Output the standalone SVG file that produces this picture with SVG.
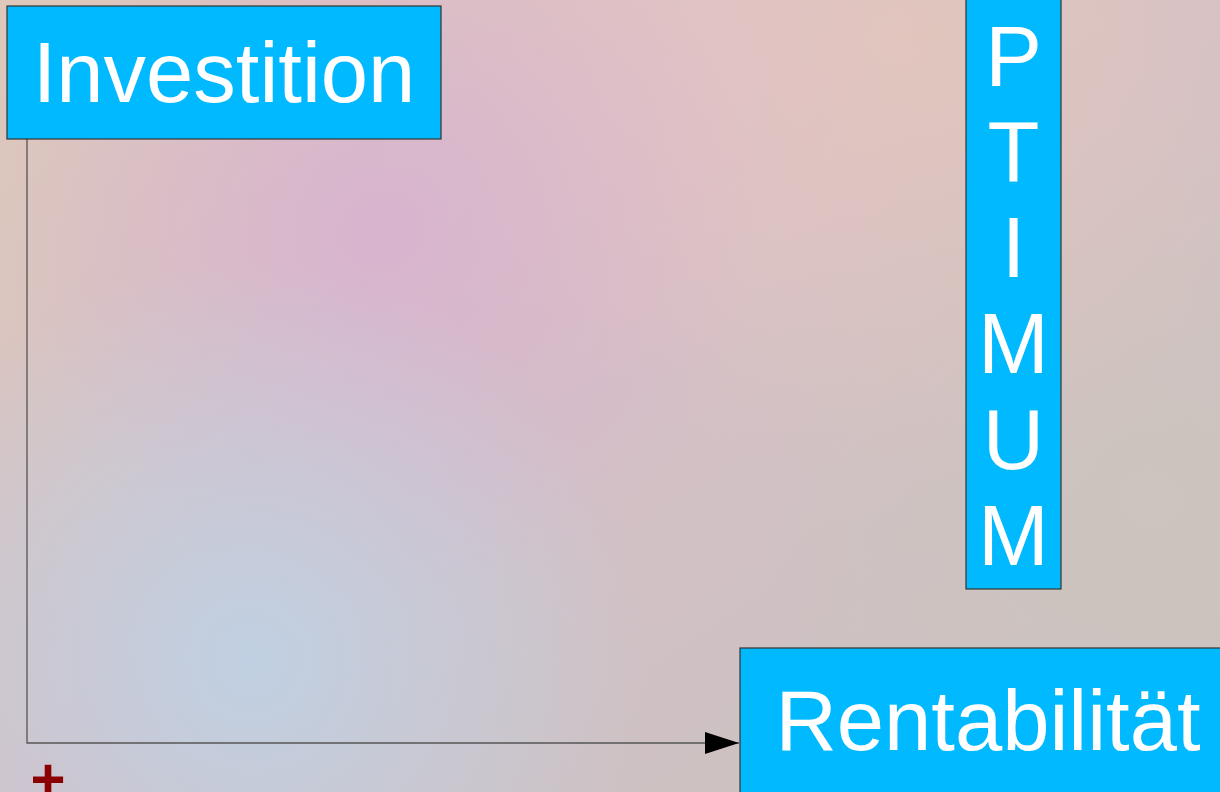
<svg xmlns="http://www.w3.org/2000/svg" width="1220" height="792" viewBox="0 0 1220 792">
  <defs>
    <linearGradient id="bg" x1="0" y1="0" x2="1" y2="1">
      <stop offset="0" stop-color="#dec8bb"/>
      <stop offset="0.5" stop-color="#d4c0c6"/>
      <stop offset="1" stop-color="#c8c2bf"/>
    </linearGradient>
    <radialGradient id="pink" cx="380" cy="230" r="380" gradientUnits="userSpaceOnUse">
      <stop offset="0" stop-color="#d8b2d0" stop-opacity="0.9"/>
      <stop offset="1" stop-color="#d8b2d0" stop-opacity="0"/>
    </radialGradient>
    <radialGradient id="blue" cx="250" cy="660" r="400" gradientUnits="userSpaceOnUse">
      <stop offset="0" stop-color="#c0d0e2" stop-opacity="1"/>
      <stop offset="1" stop-color="#c0d0e2" stop-opacity="0"/>
    </radialGradient>
    <radialGradient id="warm" cx="900" cy="40" r="450" gradientUnits="userSpaceOnUse">
      <stop offset="0" stop-color="#e2c6bc" stop-opacity="0.9"/>
      <stop offset="1" stop-color="#e2c6bc" stop-opacity="0"/>
    </radialGradient>
    <radialGradient id="gray" cx="1150" cy="500" r="400" gradientUnits="userSpaceOnUse">
      <stop offset="0" stop-color="#ccc4bd" stop-opacity="0.9"/>
      <stop offset="1" stop-color="#ccc4bd" stop-opacity="0"/>
    </radialGradient>
    <radialGradient id="rose" cx="650" cy="80" r="300" gradientUnits="userSpaceOnUse">
      <stop offset="0" stop-color="#e2c2c6" stop-opacity="0.8"/>
      <stop offset="1" stop-color="#e2c2c6" stop-opacity="0"/>
    </radialGradient>
    <marker id="arrow" viewBox="0 0 34 22" refX="34" refY="11" markerWidth="34" markerHeight="22" markerUnits="userSpaceOnUse" orient="auto">
      <path d="M0,0 L34,11 L0,22 Z" fill="#000"/>
    </marker>
    <style>
      .box { fill: #00b9ff; stroke: #333; stroke-width: 1.2; }
      .lbl { font-family: "Liberation Sans", Arial, sans-serif; font-size: 85px; fill: #fff; text-anchor: middle; }
      .conn { fill: none; stroke: #555; stroke-width: 1.3; }
    </style>
  </defs>
  <rect width="1220" height="792" fill="url(#bg)"/>
  <rect width="1220" height="792" fill="url(#gray)"/>
  <rect width="1220" height="792" fill="url(#warm)"/>
  <rect width="1220" height="792" fill="url(#rose)"/>
  <rect width="1220" height="792" fill="url(#pink)"/>
  <rect width="1220" height="792" fill="url(#blue)"/>

  <g id="connectors">
    <path class="conn" d="M27,139 L27,743 L739,743" marker-end="url(#arrow)"/>
  </g>

  <g id="node-investition">
    <rect class="box" x="7" y="6" width="434" height="133"/>
    <text class="lbl" x="224" y="102">Investition</text>
  </g>

  <g id="node-optimum">
    <rect class="box" x="966" y="-20" width="95" height="609"/>
    <text class="lbl" x="1013.5" y="86">P</text>
    <text class="lbl" x="1013.5" y="181">T</text>
    <text class="lbl" x="1013.5" y="277">I</text>
    <text class="lbl" x="1013.5" y="373">M</text>
    <text class="lbl" x="1013.5" y="469">U</text>
    <text class="lbl" x="1013.5" y="565">M</text>
  </g>

  <g id="node-rentabilitaet">
    <rect class="box" x="740" y="648" width="500" height="160"/>
    <text class="lbl" x="988" y="750">Rentabilität</text>
  </g>

  <text x="48" y="800" font-family="Liberation Sans, Arial, sans-serif" font-size="60" font-weight="bold" fill="#8b0000" text-anchor="middle">+</text>
</svg>
